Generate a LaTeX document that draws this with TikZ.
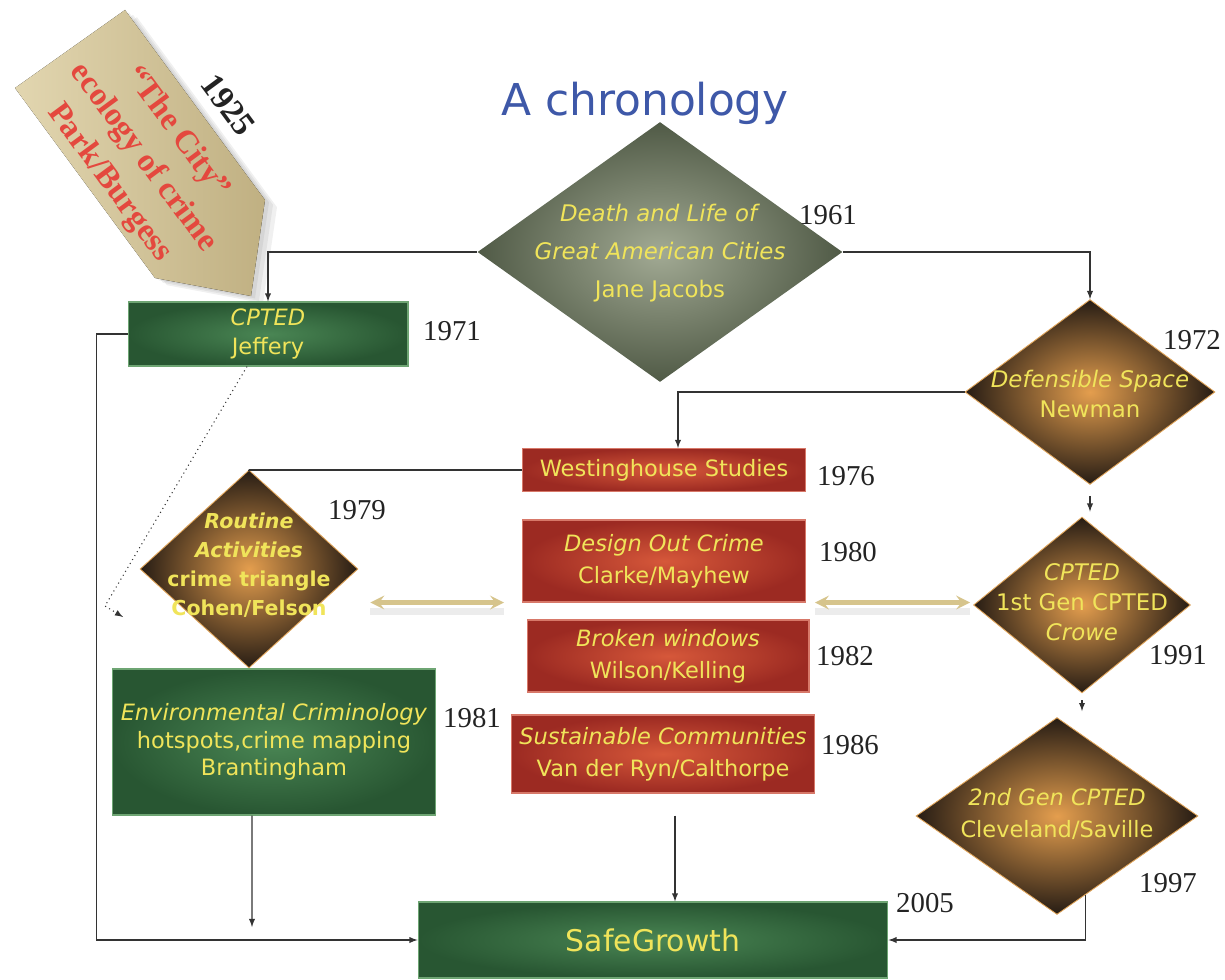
\documentclass[tikz,border=0pt]{standalone}
\usepackage{fontspec}
\newfontfamily\comicfont{DejaVu Sans}
\newfontfamily\cityfont{Liberation Serif}
\usetikzlibrary{shapes,arrows,positioning,calc,shadows}
\definecolor{titleblue}{RGB}{62,88,168}
\definecolor{textyellow}{RGB}{240,228,90}
\definecolor{boxgreen}{RGB}{40,86,50}
\definecolor{boxgreenlight}{RGB}{74,134,84}
\definecolor{greenedge}{RGB}{110,165,115}
\definecolor{boxred}{RGB}{156,42,34}
\definecolor{boxredlight}{RGB}{214,88,58}
\definecolor{rededge}{RGB}{215,120,105}
\definecolor{jacobsdark}{RGB}{80,90,70}
\definecolor{jacobslight}{RGB}{162,170,148}
\definecolor{diadark}{RGB}{38,28,20}
\definecolor{dialight}{RGB}{228,158,78}
\definecolor{diaedge}{RGB}{225,165,90}
\definecolor{pentanlight}{RGB}{226,214,176}
\definecolor{pentandark}{RGB}{192,176,130}
\definecolor{pentred}{RGB}{228,72,62}
\definecolor{arrowtan}{RGB}{214,196,140}
\definecolor{yeargray}{RGB}{35,35,35}
\newcommand{\dtext}[2][0pt]{\makebox[0pt]{\raisebox{#1}{\smash{\begin{tabular}{@{}c@{}}#2\end{tabular}}}}}

\begin{document}
\begin{tikzpicture}[
        x=0.02cm, y=-0.02cm,
        yfont/.style={text=textyellow, font=\comicfont\fontsize{12.8}{18}\selectfont, inner sep=0pt},
        greenbox/.style={rectangle, yfont, align=center, draw=greenedge, line width=0.6pt, inner color=boxgreenlight, outer color=boxgreen},
        redbox/.style={rectangle, yfont, align=center, draw=rededge, line width=0.6pt, inner color=boxredlight, outer color=boxred},
        darkdiamond/.style={diamond, yfont, draw=diaedge, line width=0.5pt, inner color=dialight, outer color=diadark},
        year/.style={text=yeargray, font=\cityfont\fontsize{16.4}{18}\selectfont},
        arrow/.style={->, >=latex, line width=0.6pt, black!80},
        link/.style={line width=0.6pt, black!80},
        dbl/.style={<->, >=stealth, line width=2.4pt, arrowtan,
            preaction={-, draw=gray, opacity=0.15, line width=4pt, transform canvas={yshift=-5pt}}}
    ]
        \useasboundingbox (0,0) rectangle (1225,980);

        % Title
        \node[text=titleblue, font=\comicfont\fontsize{25}{30}\selectfont] (title) at (645,103) {A chronology};

        % 1925 pointer
        \foreach \s in {4,8,12} {
            \fill[black, opacity=0.06, shift={(\s,0.6*\s)}]
                (15,88) -- (125,10) -- (265,200) -- (251,296) -- (155,278) -- cycle;
        }
        \fill[left color=pentanlight, right color=pentandark]
            (15,88) -- (125,10) -- (265,200) -- (251,296) -- (155,278) -- cycle;
        \node[rotate=-53.6, align=center, text=pentred, font=\cityfont\bfseries\fontsize{18.5}{24}\selectfont] (city) at (143,158) {“The City”\\ecology of crime\\Park/Burgess};
        \node[rotate=-53.6, text=yeargray, font=\cityfont\bfseries\fontsize{19}{22}\selectfont] (y1925) at (228,105) {1925};

        % Jacobs
        \node[diamond, yfont, font=\comicfont\fontsize{13}{21.8}\selectfont, inner color=jacobslight, outer color=jacobsdark,
            minimum width=7.3cm, minimum height=5.2cm] (D1) at (660,252)
            {\dtext[-6pt]{\textit{Death and Life of}\\\textit{Great American Cities}\\Jane Jacobs}};
        \node[year] (y1961) at (828,215) {1961};

        % Left column
        \node[greenbox, font=\comicfont\fontsize{12.8}{16.4}\selectfont, minimum width=5.6cm, minimum height=1.28cm] (B1) at (268,334) {\textit{CPTED}\\Jeffery};
        \node[year] (y1971) at (452,331) {1971};

        \node[darkdiamond, font=\comicfont\bfseries\fontsize{11.7}{16.4}\selectfont, minimum width=4.36cm, minimum height=3.96cm] (D3) at (249,569)
            {\dtext[-3pt]{\textit{Routine}\\\textit{Activities}\\crime triangle\\Cohen/Felson}};
        \node[year] (y1979) at (357,510) {1979};

        \node[greenbox, font=\comicfont\fontsize{12.8}{15.6}\selectfont, minimum width=6.48cm, minimum height=2.92cm] (E) at (274,742)
            {\textit{Environmental Criminology}\\hotspots,crime mapping\\Brantingham};
        \node[year] (y1981) at (472,718) {1981};

        % Middle column
        \node[redbox, minimum width=5.66cm, minimum height=0.86cm] (R1) at (664,470) {Westinghouse Studies};
        \node[year] (y1976) at (846,476) {1976};
        \node[redbox, minimum width=5.66cm, minimum height=1.64cm] (R2) at (664,561) {\textit{Design Out Crime}\\Clarke/Mayhew};
        \node[year] (y1980) at (848,552) {1980};
        \node[redbox, minimum width=5.64cm, minimum height=1.44cm] (R3) at (668,656) {\textit{Broken windows}\\Wilson/Kelling};
        \node[year] (y1982) at (845,656) {1982};
        \node[redbox, minimum width=6.06cm, minimum height=1.56cm] (R4) at (663,754) {\textit{Sustainable Communities}\\Van der Ryn/Calthorpe};
        \node[year] (y1986) at (850,745) {1986};

        % Right column
        \node[darkdiamond, font=\comicfont\fontsize{13}{17}\selectfont, minimum width=5cm, minimum height=3.7cm] (D2) at (1090,392)
            {\dtext[-11pt]{\textit{Defensible Space}\\Newman}};
        \node[year] (y1972) at (1192,340) {1972};
        \node[darkdiamond, font=\comicfont\fontsize{13}{17}\selectfont, minimum width=4.34cm, minimum height=3.52cm] (D4) at (1082,605)
            {\dtext[-5.5pt]{\textit{CPTED}\\1st Gen CPTED\\\textit{Crowe}}};
        \node[year] (y1991) at (1178,655) {1991};
        \node[darkdiamond, font=\comicfont\fontsize{12.8}{18}\selectfont, minimum width=5.64cm, minimum height=3.94cm] (D5) at (1057,816)
            {\dtext[-5pt]{\textit{2nd Gen CPTED}\\Cleveland/Saville}};
        \node[year] (y1997) at (1168,883) {1997};

        % SafeGrowth
        \node[greenbox, font=\comicfont\fontsize{17}{20}\selectfont, minimum width=9.4cm, minimum height=1.52cm] (SG) at (653,940) {SafeGrowth};
        \node[year] (y2005) at (925,903) {2005};

        % Free ends
        \coordinate (rbend) at (105,606);
        \coordinate (rtip) at (123,617);
        \coordinate (envtip) at (252,927);

        % Connections
        \draw[arrow] (D1.west) -| (B1.north);
        \draw[arrow] (D1.east) -| (D2.north);
        \draw[arrow] (D2.west) -| ([xshift=0.28cm]R1.north);
        \draw[link] (R1.west) -| (D3.north);
        \draw[arrow, shorten <=0.22cm, shorten >=0.1cm] (D2.south) -- (D2.south |- D4.north);
        \draw[arrow, shorten <=0.14cm, shorten >=0.12cm] (D4.south) -- (D4.south |- D5.north);
        \draw[arrow] (B1.west) -- ++(-31,0) |- (SG.west);
        \draw[arrow, dotted] ([xshift=-0.42cm]B1.south) -- (rbend) -- (rtip);
        \draw[arrow] ([xshift=-0.44cm]E.south) -- (envtip);
        \draw[arrow, shorten <=0.44cm] ([xshift=0.24cm]R4.south) -- ([xshift=0.24cm]R4.south |- SG.north);
        \draw[arrow] (D5.-70) |- (SG.east);

        % Links between columns
        \draw[dbl, shorten <=0.24cm, shorten >=0.36cm] (D3.east |- R2.south) -- (R2.south west);
        \draw[dbl, shorten <=0.18cm, shorten >=0.06cm] (R2.south east) -- (D4.west |- R2.south);

    \end{tikzpicture}
\end{document}
